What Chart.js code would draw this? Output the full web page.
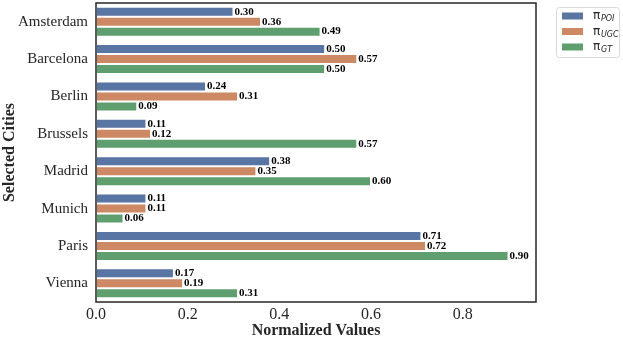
<!DOCTYPE html>
<html>
<head>
<meta charset="utf-8">
<script src="https://cdn.jsdelivr.net/npm/chart.js@4.4.0/dist/chart.umd.min.js"></script>
<style>
  html, body { margin: 0; padding: 0; background: #fff; }
  #wrap { width: 623px; height: 341px; }
</style>
</head>
<body>
<div id="wrap"><canvas id="bars"></canvas></div>
<script>
var cities = ['Amsterdam', 'Barcelona', 'Berlin', 'Brussels', 'Madrid', 'Munich', 'Paris', 'Vienna'];
var poi = [0.30, 0.50, 0.24, 0.11, 0.38, 0.11, 0.71, 0.17];
var ugc = [0.36, 0.57, 0.31, 0.12, 0.35, 0.11, 0.72, 0.19];
var gt = [0.49, 0.50, 0.09, 0.57, 0.60, 0.06, 0.90, 0.31];
var xTicks = [0.0, 0.2, 0.4, 0.6, 0.8];

var colors = ['#5975a4', '#cc8963', '#5f9e6e'];
var subs = ['POI', 'UGC', 'GT'];
var serif = "'Liberation Serif', 'Times New Roman', serif";

// value labels at the end of each bar
var barLabels = {
    id: 'barLabels',
    afterDatasetsDraw: function (chart) {
        var c = chart.ctx;
        c.save();
        c.font = 'bold 11px ' + serif;
        c.fillStyle = '#000';
        c.textBaseline = 'middle';
        chart.data.datasets.forEach(function (ds, i) {
            chart.getDatasetMeta(i).data.forEach(function (bar, j) {
                c.fillText(ds.data[j].toFixed(2), bar.x + 1, bar.y);
            });
        });
        c.restore();
    }
};

// frame round the plot area and the legend with subscripts
var frameLegend = {
    id: 'frameLegend',
    afterDraw: function (chart) {
        var c = chart.ctx, a = chart.chartArea;
        c.save();
        c.strokeStyle = '#262626';
        c.lineWidth = 1.5;
        c.strokeRect(a.left, a.top, a.right - a.left, a.bottom - a.top);

        var lx = 556, ly = 7;
        c.strokeStyle = '#d9d9d9';
        c.lineWidth = 1;
        c.beginPath();
        c.roundRect(lx + 0.5, ly + 0.5, 63, 50, 3);
        c.stroke();
        for (var i = 0; i < 3; i++) {
            var y = ly + 9 + i * 15.5;
            c.fillStyle = colors[i];
            c.fillRect(lx + 6, y - 3.5, 21, 7);
            c.fillStyle = '#262626';
            c.textBaseline = 'middle';
            c.font = "12px 'DejaVu Sans', sans-serif";
            c.fillText('\u03c0', lx + 37, y);
            c.font = "italic 8px 'DejaVu Sans', sans-serif";
            c.fillText(subs[i], lx + 45, y + 3);
        }
        c.restore();
    }
};

new Chart(document.getElementById('bars'), {
    type: 'bar',
    data: {
        labels: cities,
        datasets: [
            { label: '\u03c0_POI', data: poi, backgroundColor: colors[0] },
            { label: '\u03c0_UGC', data: ugc, backgroundColor: colors[1] },
            { label: '\u03c0_GT', data: gt, backgroundColor: colors[2] }
        ]
    },
    options: {
        indexAxis: 'y',
        responsive: true,
        maintainAspectRatio: false,
        animation: false,
        layout: { padding: { top: 3, right: 87, left: 0, bottom: 0 } },
        datasets: {
            bar: {
                categoryPercentage: 0.8,
                barPercentage: 1.0,
                borderColor: '#ffffff',
                borderWidth: 1,
                borderSkipped: false
            }
        },
        plugins: {
            legend: { display: false },
            tooltip: { enabled: false }
        },
        scales: {
            x: {
                min: 0,
                max: 0.96,
                afterBuildTicks: function (axis) {
                    axis.ticks = xTicks.map(function (v) { return { value: v }; });
                },
                afterFit: function (axis) {
                    axis.height = 39;
                    axis.paddingLeft = 0;
                    axis.paddingRight = 0;
                },
                grid: { display: false, drawTicks: false },
                border: { display: false },
                ticks: {
                    font: { family: serif, size: 16, lineHeight: 1 },
                    color: '#262626',
                    padding: 5,
                    callback: function (v) { return v.toFixed(1); }
                },
                title: {
                    display: true,
                    text: 'Normalized Values',
                    font: { family: serif, size: 16, weight: 'bold', lineHeight: 1 },
                    color: '#262626',
                    padding: { top: 1, bottom: 2 }
                }
            },
            y: {
                afterFit: function (axis) {
                    axis.width = 96;
                    axis.paddingTop = 0;
                    axis.paddingBottom = 0;
                },
                grid: { display: false, drawTicks: false },
                border: { display: false },
                ticks: {
                    font: { family: serif, size: 15 },
                    color: '#262626',
                    padding: 8
                },
                title: {
                    display: true,
                    text: 'Selected Cities',
                    font: { family: serif, size: 16, weight: 'bold', lineHeight: 1 },
                    color: '#262626',
                    padding: { top: 2, bottom: 2 }
                }
            }
        }
    },
    plugins: [barLabels, frameLegend]
});
</script>
</body>
</html>
